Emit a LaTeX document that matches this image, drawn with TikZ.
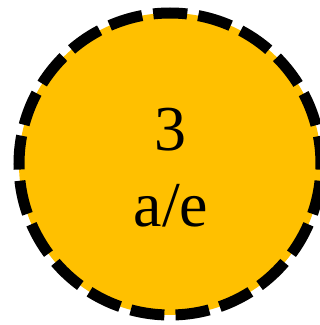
\documentclass[tikz,border=0pt]{standalone}
\usepackage{fontspec}
\setmainfont{Liberation Serif}
\definecolor{gold}{HTML}{FFC000}
\tikzset{
  ring/.style={circle, inner sep=0pt, minimum size=302pt, fill=gold, draw=black,
    line width=11pt, dash pattern=on 34pt off 11.2pt, dash phase=6pt},
  label/.style={inner sep=0pt, anchor=base, font=\fontsize{64}{76}\selectfont}
}
\begin{document}
\begin{tikzpicture}[x=1pt,y=1pt]
\useasboundingbox (0,0) rectangle (320,325);
\node[ring] (c) at (170,161) {};
\node[label] (n) at (170,175) {3};
\node[label] (t) at (171,99) {a/e};
\end{tikzpicture}
\end{document}
